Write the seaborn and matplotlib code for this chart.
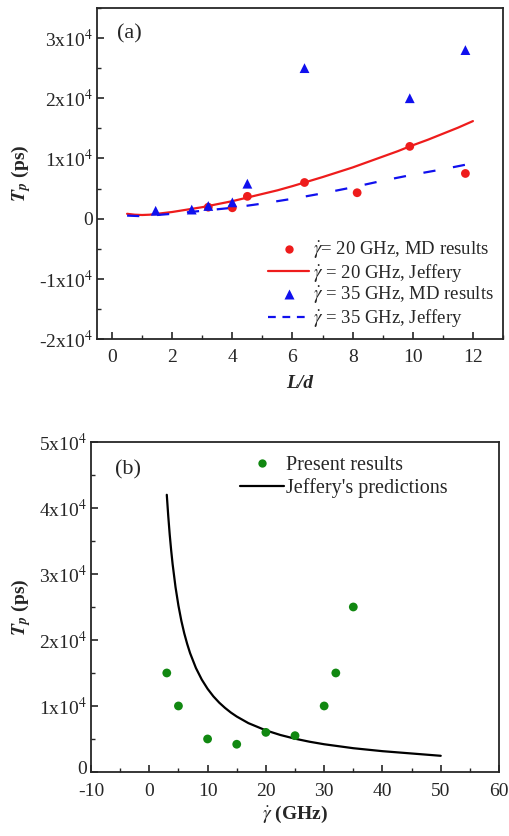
import numpy as np
import pandas as pd
import matplotlib
matplotlib.use("Agg")
import matplotlib.pyplot as plt
from matplotlib.ticker import FuncFormatter, MultipleLocator
from matplotlib.lines import Line2D
import seaborn as sns

# ---------------- data (a) ----------------
ld_md20 = [3.2, 4.0, 4.5, 6.4, 8.15, 9.9, 11.75]
tp_md20 = [1900, 1800, 3700, 6000, 4300, 12000, 7500]

ld_md35 = [1.45, 2.65, 3.2, 4.0, 4.5, 6.4, 9.9, 11.75]
tp_md35 = [1300, 1500, 2100, 2700, 5800, 25000, 20000, 28000]

ld_jef20 = [0.5, 0.75, 1.0, 1.25, 1.5, 2.0, 2.5, 3.0, 3.5, 4.0, 4.5, 5.0, 5.5, 6.0, 6.4,
            7.0, 7.5, 8.0, 8.5, 9.0, 9.5, 9.9, 10.5, 11.0, 11.5, 12.0]
tp_jef20 = [800, 650, 600, 650, 800, 1100, 1500, 1900, 2400, 2900, 3500, 4100, 4700, 5400, 6000,
            6900, 7700, 8500, 9400, 10300, 11200, 12000, 13100, 14100, 15100, 16200]

ld_jef35 = [0.5, 1.0, 1.5, 2.0, 3.0, 4.0, 5.0, 6.0, 7.0, 8.0, 9.0, 10.0, 11.0, 11.8]
tp_jef35 = [500, 400, 600, 800, 1300, 1800, 2500, 3300, 4200, 5200, 6300, 7300, 8200, 9000]

# ---------------- data (b) ----------------
rate_md = [3, 5, 10, 15, 20, 25, 30, 32, 35]
tp_md = [15000, 10000, 5000, 4200, 6000, 5500, 10000, 15000, 25000]

rate_jef = [3, 3.25, 3.5, 3.75, 4, 4.5, 5, 5.5, 6, 6.5, 7, 8, 9, 10, 11, 12, 13, 14, 15, 17,
            20, 22.5, 25, 27.5, 30, 35, 40, 45, 50]
tp_jef = [42000, 38800, 36000, 33600, 31500, 28000, 25200, 22900, 21000, 19400, 18000, 15750,
          14000, 12600, 11450, 10500, 9700, 9000, 8400, 7400, 6300, 5600, 5040, 4580, 4200,
          3600, 3150, 2800, 2450]

sns.set_style("ticks")
plt.rcParams["font.family"] = ["Liberation Serif", "DejaVu Serif"]
plt.rcParams["mathtext.fontset"] = "stix"
plt.rcParams["axes.unicode_minus"] = False
plt.rcParams["xtick.direction"] = "in"
plt.rcParams["ytick.direction"] = "in"
plt.rcParams["axes.linewidth"] = 1.3
plt.rcParams["xtick.major.width"] = 1.2
plt.rcParams["ytick.major.width"] = 1.2
plt.rcParams["xtick.minor.width"] = 1.0
plt.rcParams["ytick.minor.width"] = 1.0
plt.rcParams["xtick.major.size"] = 5
plt.rcParams["ytick.major.size"] = 5
plt.rcParams["xtick.minor.size"] = 3
plt.rcParams["ytick.minor.size"] = 3

fig = plt.figure(figsize=(5.09, 8.36), dpi=100)
ax1 = fig.add_axes([0.1906, 0.5945, 0.7976, 0.396])
ax2 = fig.add_axes([0.1788, 0.0766, 0.8016, 0.3947])


def sci_fmt(v, pos):
    if abs(v) < 1e-9:
        return "0"
    m = v / 1e4
    return r"%dx10$^{4}$" % int(round(m))

red = "#ee1c1c"
blue = "#1010ee"
green = "#118811"

# ---------- panel (a) ----------
sns.lineplot(x=ld_jef20, y=tp_jef20, ax=ax1, color=red, lw=1.6, sort=False)
sns.lineplot(x=ld_jef35, y=tp_jef35, ax=ax1, color=blue, lw=1.6, sort=False)
ax1.lines[-1].set_dashes([5.5, 8])
sns.scatterplot(x=ld_md20, y=tp_md20, ax=ax1, color=red, marker="o", s=40,
                edgecolor="none", zorder=3)
sns.scatterplot(x=ld_md35, y=tp_md35, ax=ax1, color=blue, marker="^", s=50,
                edgecolor="none", zorder=4)

ax1.set_xlim(-0.5, 13)
ax1.set_ylim(-20000, 35000)
ax1.xaxis.set_major_locator(MultipleLocator(2))
ax1.xaxis.set_minor_locator(MultipleLocator(1))
ax1.yaxis.set_major_locator(MultipleLocator(10000))
ax1.yaxis.set_minor_locator(MultipleLocator(5000))
ax1.yaxis.set_major_formatter(FuncFormatter(sci_fmt))
ax1.tick_params(labelsize=14)
ax1.tick_params(axis="x", pad=7)
ax1.tick_params(axis="y", pad=3)
ax1.set_xlabel("L/d", fontsize=14, fontweight="bold", fontstyle="italic", labelpad=7)
ax1.set_ylabel(r"$\mathbfit{T}_{\mathbfit{p}}$ (ps)", fontsize=14, fontweight="bold", labelpad=4)
ax1.text(0.05, 0.95, "(a)", transform=ax1.transAxes, fontsize=16, va="top", ha="left")

h_a = [
    Line2D([], [], color=red, marker="o", ls="none", ms=6, mec="none"),
    Line2D([], [], color=red, lw=1.6),
    Line2D([], [], color=blue, marker="^", ls="none", ms=7, mec="none"),
    Line2D([], [], color=blue, lw=1.6, dashes=[3.5, 3]),
]
l_a = [
    r"$\dot{\gamma}$= 20 GHz, MD results",
    r"$\dot{\gamma}$ = 20 GHz, Jeffery",
    r"$\dot{\gamma}$ = 35 GHz, MD results",
    r"$\dot{\gamma}$ = 35 GHz, Jeffery",
]
ax1.legend(h_a, l_a, loc="lower right", bbox_to_anchor=(1.01, -0.01), frameon=False,
           fontsize=13.5, handlelength=2.2, handletextpad=0.2, labelspacing=0.05,
           borderaxespad=0.3)

# ---------- panel (b) ----------
sns.lineplot(x=rate_jef, y=tp_jef, ax=ax2, color="black", lw=1.6, sort=False)
sns.scatterplot(x=rate_md, y=tp_md, ax=ax2, color=green, marker="o", s=40,
                edgecolor="none", zorder=3)
ax2.set_xlim(-10, 60)
ax2.set_ylim(0, 50000)
ax2.xaxis.set_major_locator(MultipleLocator(10))
ax2.xaxis.set_minor_locator(MultipleLocator(5))
ax2.yaxis.set_major_locator(MultipleLocator(10000))
ax2.yaxis.set_minor_locator(MultipleLocator(5000))
ax2.yaxis.set_major_formatter(FuncFormatter(sci_fmt))
ax2.tick_params(labelsize=14)
ax2.tick_params(axis="x", pad=8)
ax2.tick_params(axis="y", pad=3)
for lbl in ax2.get_yticklabels():
    pass
ax2.set_xlabel(r"$\dot{\gamma}$ (GHz)", fontsize=14, fontweight="bold", labelpad=3)
ax2.set_ylabel(r"$\mathbfit{T}_{\mathbfit{p}}$ (ps)", fontsize=14, fontweight="bold", labelpad=4)
ax2.text(0.06, 0.945, "(b)", transform=ax2.transAxes, fontsize=16, va="top", ha="left")

h_b = [
    Line2D([], [], color=green, marker="o", ls="none", ms=6, mec="none"),
    Line2D([], [], color="black", lw=1.6),
]
l_b = ["Present results", "Jeffery's predictions"]
ax2.legend(h_b, l_b, loc="upper left", bbox_to_anchor=(0.33, 1.0), frameon=False,
           fontsize=14.5, handlelength=2.2, handletextpad=0.1, labelspacing=0.15,
           borderaxespad=0.3)

fig.canvas.draw()
# nudge the "0" label of panel (b) slightly upward, as in the reference
import matplotlib.transforms as mtransforms
for lbl in ax2.get_yticklabels():
    if lbl.get_text() == "0":
        lbl.set_transform(lbl.get_transform() + mtransforms.ScaledTranslation(0, 3 / 72, fig.dpi_scale_trans))

fig.savefig("out.png", dpi=100)
